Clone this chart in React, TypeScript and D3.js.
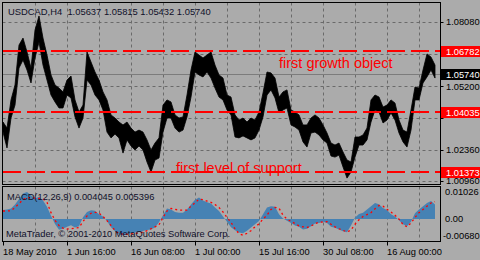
import React from 'react';
import * as d3 from 'd3';

const symbolTitle = 'USDCAD,H4';
const ohlcValues = ['1.05637', '1.05815', '1.05432', '1.05740'];
const macdTitle = 'MACD(12,26,9) 0.004045 0.005396';
const copyright = 'MetaTrader, © 2001-2010 MetaQuotes Software Corp.';

const sampleStep = 4; // bars between samples

const highs = [
  1.0360, 1.0333, 1.0459, 1.0526, 1.0705, 1.0736, 1.0674, 1.0602, 1.0772, 1.0835,
  1.0736, 1.0660, 1.0571, 1.0526, 1.0512, 1.0495, 1.0548, 1.0566, 1.0459, 1.0405,
  1.0436, 1.0674, 1.0629, 1.0584, 1.0548, 1.0495, 1.0459, 1.0392, 1.0378, 1.0360,
  1.0347, 1.0360, 1.0333, 1.0315, 1.0324, 1.0315, 1.0280, 1.0235, 1.0266, 1.0289,
  1.0436, 1.0459, 1.0450, 1.0392, 1.0378, 1.0383, 1.0481, 1.0593, 1.0674, 1.0660,
  1.0647, 1.0660, 1.0674, 1.0615, 1.0571, 1.0557, 1.0481, 1.0472, 1.0392, 1.0369,
  1.0378, 1.0360, 1.0378, 1.0369, 1.0405, 1.0490, 1.0584, 1.0580, 1.0557, 1.0472,
  1.0495, 1.0504, 1.0414, 1.0405, 1.0392, 1.0347, 1.0347, 1.0378, 1.0392, 1.0378,
  1.0347, 1.0311, 1.0266, 1.0257, 1.0266, 1.0226, 1.0190, 1.0181, 1.0293, 1.0293,
  1.0302, 1.0333, 1.0459, 1.0481, 1.0472, 1.0427, 1.0436, 1.0459, 1.0445, 1.0369,
  1.0324, 1.0315, 1.0414, 1.0517, 1.0512, 1.0593, 1.0665, 1.0651, 1.0615,
];

const lows = [
  1.0315, 1.0244, 1.0378, 1.0436, 1.0602, 1.0638, 1.0593, 1.0535, 1.0647, 1.0718,
  1.0615, 1.0548, 1.0481, 1.0450, 1.0423, 1.0423, 1.0481, 1.0468, 1.0383, 1.0333,
  1.0378, 1.0548, 1.0526, 1.0481, 1.0459, 1.0414, 1.0315, 1.0289, 1.0306, 1.0289,
  1.0221, 1.0280, 1.0253, 1.0235, 1.0253, 1.0235, 1.0181, 1.0136, 1.0190, 1.0199,
  1.0315, 1.0378, 1.0378, 1.0333, 1.0315, 1.0324, 1.0383, 1.0472, 1.0584, 1.0571,
  1.0562, 1.0584, 1.0557, 1.0512, 1.0472, 1.0459, 1.0414, 1.0392, 1.0293, 1.0289,
  1.0298, 1.0289, 1.0280, 1.0289, 1.0324, 1.0383, 1.0481, 1.0504, 1.0468, 1.0401,
  1.0414, 1.0423, 1.0347, 1.0338, 1.0324, 1.0271, 1.0248, 1.0311, 1.0315, 1.0302,
  1.0280, 1.0266, 1.0208, 1.0203, 1.0212, 1.0159, 1.0109, 1.0136, 1.0203, 1.0257,
  1.0257, 1.0280, 1.0360, 1.0414, 1.0405, 1.0356, 1.0369, 1.0401, 1.0369, 1.0311,
  1.0271, 1.0248, 1.0324, 1.0459, 1.0459, 1.0535, 1.0562, 1.0593, 1.0557,
];

const macdMain = [
  0.0028, 0.0030, 0.0033, 0.0045, 0.0062, 0.0079, 0.0084, 0.0074, 0.0064, 0.0069,
  0.0058, 0.0038, 0.0010, -0.0015, -0.0033, -0.0030, -0.0024, -0.0019, -0.0026, -0.0022,
  0.0006, 0.0022, 0.0027, 0.0026, 0.0015, 0.0008, -0.0006, -0.0025, -0.0038, -0.0048,
  -0.0050, -0.0046, -0.0044, -0.0042, -0.0040, -0.0037, -0.0034, -0.0032, -0.0026, -0.0010,
  0.0012, 0.0033, 0.0030, 0.0022, 0.0020, 0.0020, 0.0030, 0.0045, 0.0060, 0.0067,
  0.0058, 0.0052, 0.0048, 0.0036, 0.0025, 0.0008, -0.0008, -0.0025, -0.0035, -0.0042,
  -0.0044, -0.0036, -0.0026, -0.0016, -0.0006, 0.0015, 0.0036, 0.0040, 0.0038, 0.0015,
  0.0002, -0.0005, -0.0012, -0.0020, -0.0024, -0.0032, -0.0030, -0.0022, -0.0014, -0.0012,
  -0.0008, -0.0012, -0.0024, -0.0027, -0.0032, -0.0038, -0.0041, -0.0020, 0.0005, 0.0016,
  0.0020, 0.0030, 0.0040, 0.0050, 0.0046, 0.0034, 0.0028, 0.0015, 0.0008, -0.0004,
  -0.0016, -0.0022, -0.0008, 0.0018, 0.0030, 0.0040, 0.0050, 0.0056, 0.0045,
];

const macdSignal = [
  0.0025, 0.0025, 0.0026, 0.0036, 0.0048, 0.0060, 0.0067, 0.0066, 0.0065, 0.0064,
  0.0062, 0.0052, 0.0020, -0.0004, -0.0020, -0.0028, -0.0031, -0.0030, -0.0028, -0.0026,
  -0.0008, 0.0010, 0.0018, 0.0021, 0.0018, 0.0008, -0.0005, -0.0020, -0.0035, -0.0045,
  -0.0047, -0.0047, -0.0046, -0.0045, -0.0043, -0.0041, -0.0036, -0.0030, -0.0024, -0.0018,
  0.0005, 0.0025, 0.0033, 0.0030, 0.0028, 0.0028, 0.0028, 0.0040, 0.0050, 0.0062,
  0.0060, 0.0056, 0.0052, 0.0045, 0.0036, 0.0022, 0.0005, -0.0010, -0.0030, -0.0045,
  -0.0050, -0.0044, -0.0036, -0.0024, -0.0015, 0.0000, 0.0012, 0.0030, 0.0036, 0.0034,
  0.0012, 0.0000, -0.0007, -0.0014, -0.0021, -0.0024, -0.0026, -0.0022, -0.0014, -0.0010,
  -0.0009, -0.0008, -0.0016, -0.0024, -0.0030, -0.0035, -0.0040, -0.0034, -0.0016, -0.0002,
  0.0008, 0.0014, 0.0020, 0.0032, 0.0042, 0.0040, 0.0030, 0.0022, 0.0012, 0.0000,
  -0.0017, -0.0024, -0.0012, 0.0005, 0.0020, 0.0030, 0.0040, 0.0050, 0.0054,
];

const timeLabels = ['18 May 2010', '1 Jun 16:00', '16 Jun 08:00', '1 Jul 00:00', '15 Jul 16:00', '30 Jul 08:00', '16 Aug 00:00'];
const timeLabelBars = [0, 64, 128, 192, 256, 320, 384];
const timeGridBars = [32, 64, 96, 128, 160, 192, 224, 256, 288, 320, 352, 384, 416];

const priceGrid = [1.0808, 1.0664, 1.052, 1.0378, 1.0236, 1.0096];
const levelPrices = [1.06782, 1.04035, 1.01373];
const lastPrice = 1.0574;
const macdAxisValues = [0.01026, 0, -0.0068];
const macdAxisLabels = ['0.01026', '0.00', '-0.00680'];

const annotations = [
  { text: 'first growth object', bar: 276, price: 1.0601 },
  { text: 'first level of support', bar: 173, price: 1.0134 },
];

const BG = '#ababab';
const GRID = '#6a6a6a';
const FONT = '"Liberation Sans", Arial, sans-serif';

export default function App() {
  const W = 480, H = 260;
  const left = 2.5, right = 440.5, top = 2.5, mainBottom = 184.5;
  const macdTop = 186.5, macdBottom = 241.5;

  const x = d3.scaleLinear().domain([0, 434]).range([3, 437]);
  const y = d3.scaleLinear().domain([1.0096, 1.0808]).range([181, 22]);
  const ym = d3.scaleLinear().domain([-0.0068, 0.01026]).range([241, 186]);
  const crisp = (v: number) => Math.round(v) + 0.5;
  const fmt = d3.format('.5f');

  const priceArea = d3.area<number>()
    .x((_, i) => x(i * sampleStep))
    .y0((_, i) => y(lows[i]))
    .y1((_, i) => y(highs[i]));

  const macdArea = d3.area<number>()
    .x((_, i) => x(i * sampleStep))
    .y0(ym(0))
    .y1((d) => ym(d));

  const signalLine = d3.line<number>()
    .x((_, i) => x(i * sampleStep))
    .y((d) => ym(d));

  const axisX = 446;
  // grid labels hidden behind a level box are not drawn
  const visibleGrid = priceGrid.filter((p) => levelPrices.every((l) => Math.abs(y(l) - y(p)) > 8));

  return (
    <svg width={W} height={H} style={{ position: 'absolute', left: 0, top: 0, background: BG }} fontFamily={FONT}>
      <defs>
        <clipPath id="mainClip"><rect x={left} y={top} width={right - left} height={mainBottom - top} /></clipPath>
        <clipPath id="macdClip"><rect x={left} y={macdTop} width={right - left} height={macdBottom - macdTop} /></clipPath>
      </defs>
      <rect x={0} y={0} width={W} height={H} fill={BG} />

      {timeGridBars.map((b) => (
        <g key={'vg' + b}>
          <line x1={crisp(x(b))} x2={crisp(x(b))} y1={top} y2={mainBottom} stroke={GRID} strokeDasharray="3,3" />
          <line x1={crisp(x(b))} x2={crisp(x(b))} y1={macdTop} y2={macdBottom} stroke={GRID} strokeDasharray="3,3" />
        </g>
      ))}
      {priceGrid.map((p) => (
        <line key={'hg' + p} x1={left} x2={right} y1={crisp(y(p))} y2={crisp(y(p))} stroke={GRID} strokeDasharray="3,3" />
      ))}

      <line x1={left} x2={right} y1={crisp(y(lastPrice))} y2={crisp(y(lastPrice))} stroke="#7c7c7c" />

      <g clipPath="url(#mainClip)">
        <path d={priceArea(highs) || ''} fill="#000" stroke="#000" strokeWidth={0.8} />
      </g>

      {levelPrices.map((p) => (
        <line key={'lv' + p} x1={3} x2={right} y1={Math.round(y(p))} y2={Math.round(y(p))} stroke="#ff0000" strokeWidth={2} strokeDasharray="18,6" />
      ))}

      {annotations.map((a) => (
        <text key={a.text} x={x(a.bar)} y={y(a.price)} fill="#ff0000" fontSize={14.5}>{a.text}</text>
      ))}

      <text x={8} y={14.5} fontSize={9.4} fill="#10102a" style={{ whiteSpace: 'pre' }}>
        {symbolTitle + '  ' + ohlcValues.join(' ')}
      </text>

      <g clipPath="url(#macdClip)">
        <path d={macdArea(macdMain) || ''} fill="#4682b4" />
        <path d={signalLine(macdSignal) || ''} fill="none" stroke="#ff0000" strokeWidth={1.3} strokeDasharray="2,3" />
      </g>
      <text x={7} y={200} fontSize={9.3} fill="#10102a">{macdTitle}</text>
      <text x={6} y={236.5} fontSize={9.3} fill="#10102a">{copyright}</text>

      <rect x={left} y={top} width={right - left} height={mainBottom - top} fill="none" stroke="#000" />
      <rect x={left} y={macdTop} width={right - left} height={macdBottom - macdTop} fill="none" stroke="#000" />

      {priceGrid.map((p) => (
        <line key={'pt' + p} x1={right} x2={right + 3} y1={crisp(y(p))} y2={crisp(y(p))} stroke="#000" />
      ))}
      {visibleGrid.map((p) => (
        <text key={'pl' + p} x={axisX} y={y(p) + 3.3} fontSize={9.3} fill="#000">{fmt(p)}</text>
      ))}
      {levelPrices.map((p) => (
        <g key={'lb' + p}>
          <rect x={441} y={Math.round(y(p)) - 5} width={39} height={11} fill="#ff0000" />
          <text x={axisX} y={Math.round(y(p)) + 3.8} fontSize={9.3} fill="#fff">{fmt(p)}</text>
        </g>
      ))}
      <rect x={441} y={Math.round(y(lastPrice)) - 5} width={39} height={11} fill="#000" />
      <text x={axisX} y={Math.round(y(lastPrice)) + 3.8} fontSize={9.3} fill="#fff">{fmt(lastPrice)}</text>

      {macdAxisValues.map((v, i) => {
        const yy = Math.min(Math.max(ym(v), 191.5), 235.5);
        return (
          <text key={'ma' + i} x={i === 2 ? 443 : 445} y={yy + 3.3} fontSize={9.3} fill="#000">{macdAxisLabels[i]}</text>
        );
      })}

      {timeLabelBars.map((b, i) => (
        <g key={'tl' + b}>
          <line x1={crisp(x(b))} x2={crisp(x(b))} y1={macdBottom} y2={macdBottom + 4} stroke="#000" />
          <text x={x(b)} y={255} fontSize={9.3} fill="#000">{timeLabels[i]}</text>
        </g>
      ))}
    </svg>
  );
}
